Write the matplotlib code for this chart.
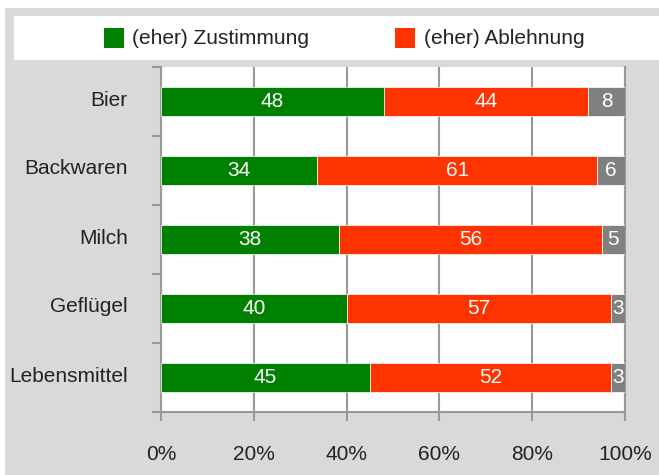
import matplotlib
matplotlib.use("Agg")
import matplotlib.pyplot as plt
from matplotlib.patches import Rectangle
from matplotlib.transforms import ScaledTranslation
import numpy as np

plt.rcParams['font.family'] = ['Liberation Sans', 'DejaVu Sans']

categories = ["Bier", "Backwaren", "Milch", "Geflügel", "Lebensmittel"]
series_names = ["(eher) Zustimmung", "(eher) Ablehnung", "weiß nicht"]
zustimmung = [48, 34, 38, 40, 45]
ablehnung = [44, 61, 56, 57, 52]
weiss_nicht = [8, 6, 5, 3, 3]
colors = ["#008000", "#FF3300", "#808080"]
x_ticks = [0, 20, 40, 60, 80, 100]
x_ticklabels = ["0%", "20%", "40%", "60%", "80%", "100%"]

W, H = 659, 475
fig = plt.figure(figsize=(W / 100, H / 100), dpi=100)
fig.patch.set_facecolor("white")

def fx(px):
    return px / W

def fy(py):
    return 1 - py / H

# grey panel and white legend strip
fig.patches.append(Rectangle((fx(5), fy(475)), fx(654), 467 / H,
                             transform=fig.transFigure, facecolor="#D9D9D9",
                             edgecolor="none", zorder=0))
fig.patches.append(Rectangle((fx(14), fy(60)), fx(645), 44 / H,
                             transform=fig.transFigure, facecolor="white",
                             edgecolor="none", zorder=1))

ax = fig.add_axes([fx(161), fy(412), fx(625 - 161), (412 - 67) / H])
ax.set_zorder(5)
ax.set_facecolor("white")

values = np.array([zustimmung, ablehnung, weiss_nicht], dtype=float)
totals = values.sum(axis=0)
shares = values / totals * 100
y = np.arange(len(categories))
left = np.zeros(len(categories))
for i in range(len(series_names)):
    bars = ax.barh(y, shares[i], left=left, height=0.41, color=colors[i],
                   edgecolor="white", linewidth=0.5, zorder=3)
    for j, b in enumerate(bars):
        cx = left[j] + shares[i][j] / 2
        ax.text(cx, y[j], f"{int(values[i][j])}", ha="center", va="center",
                color="white", fontsize=15, zorder=4)
    left += shares[i]

ax.set_xlim(0, 100)
ax.set_ylim(len(categories) - 0.5, -0.5)

ax.set_xticks(x_ticks)
ax.set_xticklabels(x_ticklabels, fontsize=15, color="#222222")
ax.xaxis.grid(True, color="#999999", linewidth=1.5, zorder=1)
ax.set_axisbelow(True)
ax.tick_params(axis="x", length=6.5, width=1.5, color="#999999", pad=17)

ax.set_yticks(y)
ax.set_yticklabels(categories, fontsize=15, color="#222222")
ax.set_yticks(np.arange(-0.5, len(categories), 1), minor=True)
ax.tick_params(axis="y", which="major", length=0, pad=24)
ax.tick_params(axis="y", which="minor", length=6.5, width=1.5, color="#999999")
lift = ScaledTranslation(0, 0.035, fig.dpi_scale_trans)
for lab in ax.get_yticklabels():
    lab.set_transform(lab.get_transform() + lift)

ax.spines["top"].set_visible(False)
for s in ["left", "bottom", "right"]:
    ax.spines[s].set_color("#999999")
    ax.spines[s].set_linewidth(1.5)

# legend entries
legend_pos = [(104, 132), (395, 424)]
for (sq_x, tx), name, c in zip(legend_pos, series_names[:2], colors[:2]):
    fig.patches.append(Rectangle((fx(sq_x), fy(48)), fx(20), 20 / H,
                                 transform=fig.transFigure, facecolor=c,
                                 edgecolor="none", zorder=2))
    fig.text(fx(tx), fy(38), name, ha="left", va="center", fontsize=15,
             color="#222222", zorder=3)

fig.savefig("out.png", dpi=100)
